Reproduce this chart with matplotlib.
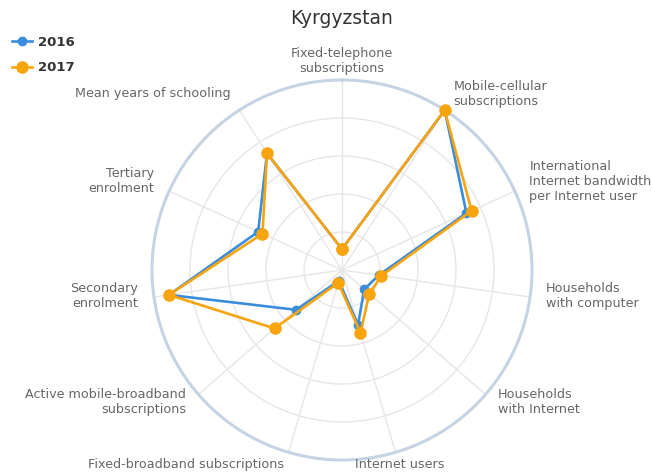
import matplotlib.pyplot as plt
import numpy as np

# indicator names, clockwise from top
categories = [
    "Fixed-telephone\nsubscriptions",
    "Mobile-cellular\nsubscriptions",
    "International\nInternet bandwidth\nper Internet user",
    "Households\nwith computer",
    "Households\nwith Internet",
    "Internet users",
    "Fixed-broadband subscriptions",
    "Active mobile-broadband\nsubscriptions",
    "Secondary\nenrolment",
    "Tertiary\nenrolment",
    "Mean years of schooling",
]
values_2016 = [1.1, 10.0, 7.2, 1.95, 1.55, 3.0, 0.6, 3.2, 9.2, 4.85, 7.3]
values_2017 = [1.1, 10.0, 7.5, 2.1, 1.9, 3.45, 0.7, 4.7, 9.2, 4.6, 7.3]
label_align = ["center", "left", "left", "left", "left", "center",
               "right", "right", "right", "right", "right"]

blue = "#3a8ddc"
orange = "#f8a40e"

n = len(categories)
theta = np.arange(n) * 2 * np.pi / n

fig = plt.figure(figsize=(6.52, 4.76), dpi=100)
ax = fig.add_axes([(342 - 190) / 652, (476 - 270 - 190) / 476, 380 / 652, 380 / 476],
                  projection="polar")
ax.set_theta_zero_location("N")
ax.set_theta_direction(-1)
ax.set_ylim(0, 10)
ax.set_yticks([2, 4, 6, 8, 10])
ax.set_yticklabels([])
ax.set_xticks(theta)
ax.set_xticklabels([])
ax.grid(color="#e6e6e6", linewidth=1.0)
ax.spines["polar"].set_color("#c5d3e3")
ax.spines["polar"].set_linewidth(2.2)
ax.tick_params(length=0)

t = np.append(theta, theta[0])
ax.plot(t, values_2016 + values_2016[:1], color=blue, lw=1.9, marker="o", ms=6,
        label="2016", zorder=3, clip_on=False)
ax.plot(t, values_2017 + values_2017[:1], color=orange, lw=1.9, marker="o", ms=8,
        label="2017", zorder=4, clip_on=False)

# axis labels outside the circle
for ang, lab, al in zip(theta, categories, label_align):
    ax.annotate(lab, xy=(ang, 10), xytext=(16 * np.sin(ang), 16 * np.cos(ang) + 3),
                textcoords="offset pixels", ha=al, va="center", multialignment=al,
                fontsize=9.2, color="#666666", linespacing=1.2, annotation_clip=False)

fig.text(0.524, 0.962, "Kyrgyzstan", ha="center", va="center", fontsize=13.5, color="#333333")

leg = fig.legend(loc="upper left", bbox_to_anchor=(0.0, 0.95), frameon=False,
                 handlelength=1.5, handletextpad=0.5, labelspacing=0.95,
                 prop={"weight": "bold", "size": 9.5})
for txt in leg.get_texts():
    txt.set_color("#333333")

fig.savefig("out.png", dpi=100)
